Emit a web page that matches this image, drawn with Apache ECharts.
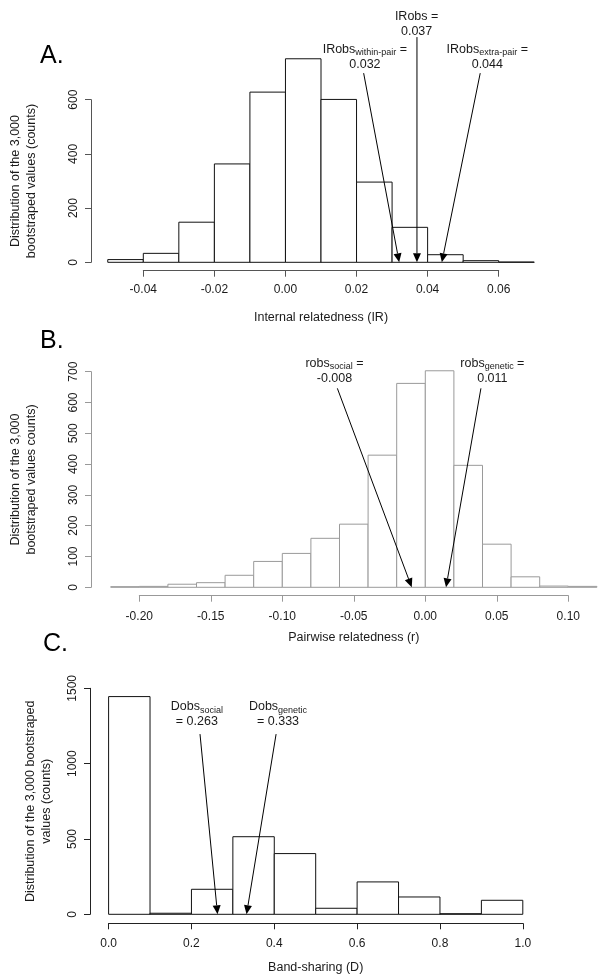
<!DOCTYPE html>
<html>
<head>
<meta charset="utf-8">
<script src="https://cdn.jsdelivr.net/npm/echarts@6/dist/echarts.min.js"></script>
<style>html,body{margin:0;padding:0;background:#fff}#c{width:600px;height:978px}</style>
</head>
<body>
<div id="c"></div>
<script>
// ---------- Panel A: Internal relatedness (IR) ----------
const edgesA = [-0.05,-0.04,-0.03,-0.02,-0.01,0.00,0.01,0.02,0.03,0.04,0.05,0.06,0.07];
const countsA = [10,33,148,363,628,751,601,296,129,28,6,1];
// arrows: [x start, y start, x tip, y tip]
const arrowsA = [[0.0220,698,0.032,0],[0.037,831,0.037,0],[0.0548,698,0.044,0]];
const notesA = [[0.02235,756],[0.0369,878],[0.0568,756]];
const noteTextA = ['{b|IRobs}{s|within-pair}{b| =}\n{b|0.032}','{b|IRobs =}\n{b|0.037}','{b|IRobs}{s|extra-pair}{b| =}\n{b|0.044}'];

// ---------- Panel B: Pairwise relatedness (r) ----------
const edgesB = [-0.22,-0.20,-0.18,-0.16,-0.14,-0.12,-0.10,-0.08,-0.06,-0.04,-0.02,0.00,0.02,0.04,0.06,0.08,0.10,0.12];
const countsB = [2,3,10,15,39,84,110,159,205,429,662,703,396,140,34,4,3];
const arrowsB = [[-0.0615,646,-0.0095,0],[0.0389,646,0.0145,0]];
const notesB = [[-0.0635,703],[0.0469,703]];
const noteTextB = ['{b|robs}{s|social}{b| =}\n{b|-0.008}','{b|robs}{s|genetic}{b| =}\n{b|0.011}'];

// ---------- Panel C: Band-sharing (D) ----------
const edgesC = [0.0,0.1,0.2,0.3,0.4,0.5,0.6,0.7,0.8,0.9,1.0];
const countsC = [1445,7,166,515,403,40,215,115,4,93];
const arrowsC = [[0.2207,1196,0.263,0],[0.4044,1196,0.333,0]];
const notesC = [[0.213,1326],[0.409,1326]];
const noteTextC = ['{b|Dobs}{s|social}\n{b|= 0.263}','{b|Dobs}{s|genetic}\n{b|= 0.333}'];

const FONT = '"Liberation Sans", Arial, Helvetica, sans-serif';
const TXT = '#1a1a1a';

function histData(edges, counts){
  return counts.map((c,i)=>[edges[i], edges[i+1], c]);
}
function histSeries(idx, edges, counts, stroke){
  return {
    type:'custom', xAxisIndex:idx, yAxisIndex:idx, clip:false, silent:true,
    data: histData(edges, counts),
    encode:{x:[0,1], y:2},
    renderItem:(params, api)=>{
      const p0 = api.coord([api.value(0), 0]);
      const p1 = api.coord([api.value(1), api.value(2)]);
      return {type:'rect', shape:{x:p0[0], y:p1[1], width:p1[0]-p0[0], height:p0[1]-p1[1]},
        style:{fill:'#fff', stroke:stroke, lineWidth:1}};
    }
  };
}
function arrowSeries(idx, arrows){
  return {
    type:'custom', xAxisIndex:idx, yAxisIndex:idx, clip:false, silent:true, z:5,
    data: arrows,
    renderItem:(params, api)=>{
      const a = api.coord([api.value(0), api.value(1)]);
      const b = api.coord([api.value(2), api.value(3)]);
      const dx=b[0]-a[0], dy=b[1]-a[1], L=Math.hypot(dx,dy), ux=dx/L, uy=dy/L;
      const hl=9, hw=4;
      const base=[b[0]-ux*hl, b[1]-uy*hl];
      return {type:'group', children:[
        {type:'line', shape:{x1:a[0],y1:a[1],x2:base[0],y2:base[1]}, style:{stroke:'#000', lineWidth:1}},
        {type:'polygon', shape:{points:[b,[base[0]-uy*hw, base[1]+ux*hw],[base[0]+uy*hw, base[1]-ux*hw]]}, style:{fill:'#000'}}
      ]};
    }
  };
}
function noteSeries(idx, notes, texts){
  return {
    type:'custom', xAxisIndex:idx, yAxisIndex:idx, clip:false, silent:true, z:6,
    data: notes,
    renderItem:(params, api)=>{
      const p = api.coord([api.value(0), api.value(1)]);
      return {type:'text', x:p[0], y:p[1], style:{
        text: texts[params.dataIndex], align:'center', verticalAlign:'middle',
        fill: TXT, fontFamily: FONT,
        rich:{
          b:{fontSize:12.5, lineHeight:15, fill:TXT, fontFamily:FONT},
          s:{fontSize:9, lineHeight:7, verticalAlign:'bottom', fill:TXT, fontFamily:FONT}
        }
      }};
    }
  };
}
function xAxisCfg(idx, min, max, interval, dec, name, nameGap, margin, offset, color){
  return {
    type:'value', gridIndex:idx, min:min, max:max, interval:interval, offset:offset,
    name:name, nameLocation:'middle', nameGap:nameGap,
    nameTextStyle:{fontSize:12.5, color:TXT, fontFamily:FONT},
    axisLine:{show:true, onZero:false, lineStyle:{color:color, width:1}},
    axisTick:{show:true, length:6, lineStyle:{color:color}},
    splitLine:{show:false},
    axisLabel:{fontSize:12, color:TXT, fontFamily:FONT, margin:margin, showMinLabel:true, showMaxLabel:true,
      formatter:v=>v.toFixed(dec)}
  };
}
function yAxisCfg(idx, max, interval, name, nameGap, offset, color){
  return {
    type:'value', gridIndex:idx, min:0, max:max, interval:interval, offset:offset,
    name:name, nameLocation:'middle', nameGap:nameGap, nameRotate:90,
    nameTextStyle:{fontSize:12.5, color:TXT, fontFamily:FONT, lineHeight:15.5, align:'center'},
    axisLine:{show:true, onZero:false, lineStyle:{color:color, width:1}},
    axisTick:{show:true, length:6, lineStyle:{color:color}},
    splitLine:{show:false},
    axisLabel:{fontSize:12, color:TXT, fontFamily:FONT, rotate:90, margin:11, showMinLabel:true, showMaxLabel:true,
      formatter:v=>String(v)}
  };
}

const chart = echarts.init(document.getElementById('c'), null, {renderer:'canvas'});
chart.setOption({
  animation:false,
  backgroundColor:'#fff',
  textStyle:{fontFamily:FONT},
  grid:[
    {left:142.3, top:99.7, width:356.4, height:162.6},
    {left:138.3, top:371.7, width:430, height:215.6},
    {left:108.6, top:688.3, width:414.2, height:226}
  ],
  xAxis:[
    xAxisCfg(0,-0.04,0.06,0.02,2,'Internal relatedness (IR)',40,13,8.4,'#555'),
    xAxisCfg(1,-0.20,0.10,0.05,2,'Pairwise relatedness (r)',35,15,8.4,'#999'),
    xAxisCfg(2,0,1,0.2,1,'Band-sharing (D)',38,14,9,'#222')
  ],
  yAxis:[
    yAxisCfg(0,600,200,'Distribution of the 3,000\nbootstraped values (counts)',52,52.3,'#555'),
    yAxisCfg(1,700,100,'Distribution of the 3,000\nbootstraped values counts)',52,48.3,'#999'),
    yAxisCfg(2,1500,500,'Distribution of the 3,000 bootstraped\nvalues (counts)',36,18.6,'#222')
  ],
  graphic:[
    {type:'text', left:40, top:44, style:{text:'A.', fontSize:25, fill:'#000', fontFamily:FONT}},
    {type:'text', left:40, top:329, style:{text:'B.', fontSize:25, fill:'#000', fontFamily:FONT}},
    {type:'text', left:43, top:632, style:{text:'C.', fontSize:25, fill:'#000', fontFamily:FONT}}
  ],
  series:[
    histSeries(0, edgesA, countsA, '#111'),
    arrowSeries(0, arrowsA),
    noteSeries(0, notesA, noteTextA),
    histSeries(1, edgesB, countsB, '#9a9a9a'),
    arrowSeries(1, arrowsB),
    noteSeries(1, notesB, noteTextB),
    histSeries(2, edgesC, countsC, '#111'),
    arrowSeries(2, arrowsC),
    noteSeries(2, notesC, noteTextC)
  ]
});
</script>
</body>
</html>
